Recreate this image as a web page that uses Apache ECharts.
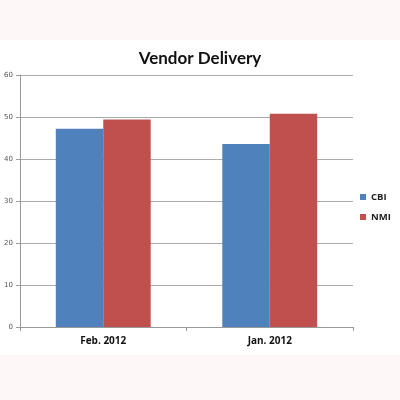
<!DOCTYPE html>
<html><head><meta charset="utf-8">
<script src="https://cdn.jsdelivr.net/npm/echarts@6/dist/echarts.min.js"></script>
<style>html,body{margin:0;padding:0;background:#fdf7f7;}#c{width:400px;height:400px;}</style>
</head><body><div id="c"></div>
<script>
var categories = ['Feb. 2012', 'Jan. 2012'];
var cbi = [47.2, 43.6];
var nmi = [49.4, 50.8];
var chart = echarts.init(document.getElementById('c'));
chart.setOption({
  backgroundColor: '#fdf7f7',
  animation: false,
  graphic: [{type:'rect', shape:{x:0,y:40,width:400,height:315}, style:{fill:'#ffffff'}, z:-10}],
  title: {text:'Vendor Delivery', left:'center', top:45, textStyle:{fontFamily:'Lato', fontSize:17, fontWeight:'bold', color:'#111'}},
  legend: {orient:'vertical', left:360, top:192, padding:0, itemWidth:6, itemHeight:6, itemGap:10, icon:'rect',
    textStyle:{fontFamily:'Open Sans', fontSize:9.5, fontWeight:'bold', color:'#222'}},
  grid: {left:20, right:47, top:75, bottom:73},
  xAxis: {type:'category', data:categories,
    axisLine:{lineStyle:{color:'#999'}}, axisTick:{show:true, length:4, lineStyle:{color:'#999'}},
    axisLabel:{fontFamily:'Open Sans', fontSize:10, fontWeight:'bold', color:'#111', margin:9}},
  yAxis: {type:'value', min:0, max:60, interval:10,
    axisLine:{show:true, lineStyle:{color:'#999'}}, axisTick:{show:true, length:4, lineStyle:{color:'#999'}},
    splitLine:{lineStyle:{color:'#aaa'}},
    axisLabel:{fontFamily:'DejaVu Sans', fontSize:7, color:'#555', margin:7}},
  series: [
    {name:'CBI', type:'bar', data:cbi, itemStyle:{color:'#4f81bd'}, barGap:'0%', barCategoryGap:'43%'},
    {name:'NMI', type:'bar', data:nmi, itemStyle:{color:'#c0504d'}, barGap:'0%', barCategoryGap:'43%'}
  ]
});
</script></body></html>
